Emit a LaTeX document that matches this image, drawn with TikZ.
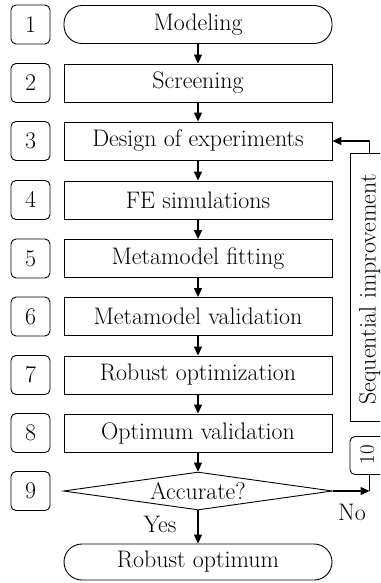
\documentclass[tikz,border=0pt]{standalone}
\usepackage{fontspec}
\usetikzlibrary{shapes.geometric,arrows.meta}

\tikzset{
  base/.style={draw, line width=0.9bp, minimum width=268bp, minimum height=38bp, inner sep=0pt},
  stepbox/.style={base},
  terminal/.style={base, rounded corners=18bp},
  numbox/.style={draw, line width=0.9bp, rounded corners=5bp, minimum width=39bp, minimum height=39bp, inner sep=0pt},
  decision/.style={draw, diamond, line width=0.9bp, aspect=7, minimum width=269bp, minimum height=38bp, inner sep=0pt},
  arr/.style={line width=1.3bp, -{Triangle[length=9bp,width=8bp]}},
  plain/.style={line width=1.3bp},
}

\begin{document}
\begin{tikzpicture}[x=1bp, y=-1bp, font=\fontsize{24}{28}\selectfont\addfontfeatures{FakeBold=0.6}]
\useasboundingbox (0,0) rectangle (380,583);

% main flow
\node[terminal] (m1) at (198,24.5) {Modeling};
\node[stepbox]  (m2) at (198,83)   {Screening};
\node[stepbox]  (m3) at (198,141)  {Design of experiments};
\node[stepbox]  (m4) at (198,200)  {FE simulations};
\node[stepbox]  (m5) at (198,258.5){Metamodel fitting};
\node[stepbox]  (m6) at (198,316.5){Metamodel validation};
\node[stepbox]  (m7) at (198,375)  {Robust optimization};
\node[stepbox]  (m8) at (198,433)  {Optimum validation};
\node[decision] (m9) at (198,491)  {Accurate?};
\node[terminal, minimum height=36bp] (end) at (198,562) {Robust optimum};

% step numbers
\foreach \n/\y in {1/24.5,2/83,3/141,4/200,5/258.5,6/316.5,7/375,8/433,9/491}
  \node[numbox] (k\n) at (30.5,\y) {\n};

% feedback boxes, cut at the right edge
\begin{scope}
  \clip (0,0) rectangle (380,583);
  \node[draw, line width=0.9bp, minimum width=42bp, minimum height=268bp, inner sep=0pt] (seq) at (371,287) {};
  \node[rotate=90] (seqtext) at (369.5,289.5) {Sequential improvement};
  \node[numbox, minimum width=42bp, minimum height=38bp] (k10) at (371,455.5) {};
  \node[rotate=90, font=\fontsize{21}{25}\selectfont\addfontfeatures{FakeBold=0.6}] (k10text) at (367,454.5) {10};
\end{scope}

% connectors
\foreach \a/\b in {m1/m2,m2/m3,m3/m4,m4/m5,m5/m6,m6/m7,m7/m8,m8/m9,m9/end}
  \draw[arr] (\a.south) -- (\b.north);

\coordinate (turn) at (369.5,491);
\draw[arr] (m9.east) -- (turn);
\draw[plain] (turn |- k10.south) -- (turn);
\draw[arr] (turn |- seq.north) |- (m3.east);

% branch labels
\node (yes) at (160,524) {Yes};
\node (no) at (352,512) {No};
\end{tikzpicture}
\end{document}
